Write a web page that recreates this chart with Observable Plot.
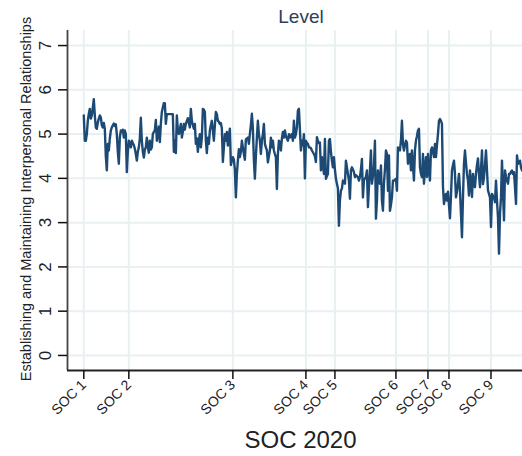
<!DOCTYPE html>
<html><head><meta charset="utf-8">
<script src="https://cdn.jsdelivr.net/npm/d3@7"></script>
<script src="https://cdn.jsdelivr.net/npm/@observablehq/plot@0.6"></script>
<style>body{margin:0;background:#fff;}</style>
</head><body><div id="chart"></div>
<script>
// Level score per occupation (ordered by SOC 2020 code)
const levelValues = [
5.42,4.85,4.85,5.0,5.3,5.46,5.57,5.35,5.42,5.6,5.79,5.42,5.15,5.12,5.26,5.35,5.42,5.38,5.2,5.15,
5.25,5.12,4.5,4.18,4.78,4.63,4.9,5.08,5.15,5.2,5.24,5.18,5.22,5.0,4.6,4.33,4.92,5.08,5.05,5.1,
4.92,5.08,5.0,4.14,4.6,4.85,4.8,4.7,4.85,4.8,4.75,4.67,4.55,4.4,4.6,4.7,4.9,5.37,4.85,4.6,
4.47,4.65,4.7,4.92,4.7,4.58,4.85,4.65,4.7,5.0,5.05,5.08,5.32,4.85,5.0,5.17,4.82,5.23,5.5,5.6,
5.7,5.7,5.23,5.45,5.45,5.45,5.45,5.45,5.45,5.45,4.6,4.85,4.57,5.42,5.1,5.0,5.1,5.23,4.92,5.05,
5.23,5.1,5.23,5.3,5.36,5.25,5.15,5.57,5.3,5.2,5.12,5.23,4.78,4.9,4.6,4.85,5.0,4.7,4.92,5.57,
5.55,5.5,4.85,4.57,4.92,4.78,5.08,5.2,5.3,5.08,4.85,5.2,5.5,5.45,5.3,5.28,5.23,5.25,5.12,4.37,
4.7,5.0,4.85,5.05,4.74,4.95,5.12,4.3,4.4,4.48,4.42,4.2,3.57,4.1,4.4,4.66,4.48,4.6,4.85,4.7,
4.55,4.42,4.88,4.9,4.92,4.78,5.0,5.2,5.46,5.12,4.42,3.99,4.5,4.92,5.3,5.0,4.85,4.55,4.85,5.0,
5.23,4.78,4.7,4.63,4.36,4.5,4.63,4.92,4.7,4.85,4.63,4.55,4.48,3.76,4.55,4.85,4.82,4.63,4.9,5.05,
4.92,5.08,4.95,4.9,4.85,5.0,4.92,4.95,5.0,4.85,5.3,4.92,5.0,5.15,5.53,5.57,5.1,4.63,4.85,4.75,
5.0,4.0,4.85,4.8,4.78,4.7,4.7,4.68,4.63,4.59,4.55,4.5,4.37,4.93,4.85,4.8,4.81,4.18,4.48,4.3,
4.1,4.89,3.99,4.05,4.1,4.85,4.89,4.6,4.4,4.25,4.48,4.2,3.99,3.88,3.77,2.93,3.5,3.72,3.77,3.95,
3.9,3.88,4.4,4.25,4.1,3.95,3.54,4.18,4.25,4.2,4.14,4.03,4.07,4.05,4.03,3.95,4.03,4.2,4.44,3.57,
3.95,4.0,4.03,4.18,3.35,3.8,4.18,4.63,3.88,4.05,4.25,4.85,3.09,3.5,4.18,4.0,3.88,4.29,3.5,3.27,
3.88,4.2,4.63,4.55,3.72,4.52,3.27,3.4,3.57,3.95,3.95,3.97,3.99,3.72,4.7,4.65,4.63,4.85,5.3,4.78,
4.63,4.75,4.85,4.81,4.33,4.45,4.55,4.18,4.63,4.3,3.95,4.63,4.85,4.95,5.08,5.12,4.25,4.1,4.03,4.55,
3.88,4.2,4.48,4.03,4.55,4.2,3.95,4.63,4.7,4.6,4.48,4.78,4.48,4.75,5.0,5.3,5.34,5.3,5.23,3.81,
3.42,3.55,3.65,3.5,3.7,3.4,3.1,3.6,4.18,4.3,4.4,4.1,3.57,3.7,3.87,4.1,3.73,3.2,2.67,3.57,
4.33,4.63,4.35,4.1,3.95,3.61,4.18,3.9,3.58,4.1,3.87,3.8,4.1,4.3,4.45,4.1,3.8,4.2,4.63,3.87,
4.03,4.3,4.63,4.18,3.73,3.65,3.57,2.9,3.65,3.6,3.57,3.46,3.95,3.5,3.12,2.3,3.2,3.57,4.4,3.7,
3.05,4.18,4.03,3.95,3.88,4.1,4.1,4.15,4.18,4.1,4.14,3.8,3.42,4.52,4.33,4.35,4.4,4.25,4.18
];
// Position (occupation index) where each SOC major group starts
const socTickPositions = [0, 45, 149, 222, 251, 312, 344, 365, 407];
const socTickLabels = ["SOC 1","SOC 2","SOC 3","SOC 4","SOC 5","SOC 6","SOC 7","SOC 8","SOC 9"];
const yTickValues = [0,1,2,3,4,5,6,7];
const chartTitle = "Level";
const xTitle = "SOC 2020";
const yTitle = "Establishing and Maintaining Interpersonal Relationships";

const data = levelValues.map((v, i) => ({i, v}));
const xDom = [-16.3, 438.5];
const yDom = [-0.34, 7.34];
const gridColor = "#e8f0f2";
const font = "'Liberation Sans', Arial, sans-serif";

const chart = Plot.plot({
  width: 522, height: 456,
  marginTop: 30, marginBottom: 86, marginLeft: 67, marginRight: 0,
  style: {fontFamily: font, background: "#fff", overflow: "visible"},
  x: {domain: xDom, label: null},
  y: {domain: yDom, label: null},
  marks: [
    Plot.gridX(socTickPositions, {stroke: gridColor, strokeOpacity: 1, strokeWidth: 2}),
    Plot.gridY(yTickValues, {stroke: gridColor, strokeOpacity: 1, strokeWidth: 2}),
    Plot.line(data, {x: "i", y: "v", stroke: "#1d4a74", strokeWidth: 2.4}),
    Plot.ruleX([xDom[0]], {stroke: "#444", strokeWidth: 1.8}),
    Plot.ruleY([yDom[0]], {stroke: "#222", strokeWidth: 1.8}),
    Plot.axisX(socTickPositions, {
      tickSize: 9, tickPadding: 3, tickRotate: -45, fontSize: 14, label: null,
      stroke: "#111", strokeWidth: 1.5, fill: "#222",
      tickFormat: d => socTickLabels[socTickPositions.indexOf(d)]
    }),
    Plot.axisY(yTickValues, {
      tickSize: 9, tickPadding: 8, tickRotate: -90, fontSize: 17, label: null,
      stroke: "#111", strokeWidth: 1.5, fill: "#222"
    }),
    Plot.text([chartTitle], {frameAnchor: "top", dx: 6, dy: -8, lineAnchor: "bottom", fontSize: 19, fill: "#2c3e5c"}),
    Plot.text([xTitle], {frameAnchor: "bottom", dx: 5.5, dy: 77, lineAnchor: "bottom", fontSize: 24, fill: "#222"}),
    Plot.text([yTitle], {frameAnchor: "left", textAnchor: "middle", rotate: -90, dx: -37, dy: -1.5, lineAnchor: "bottom", fontSize: 14.5, fill: "#222"})
  ]
});
document.getElementById("chart").appendChild(chart);
</script>
</body></html>
